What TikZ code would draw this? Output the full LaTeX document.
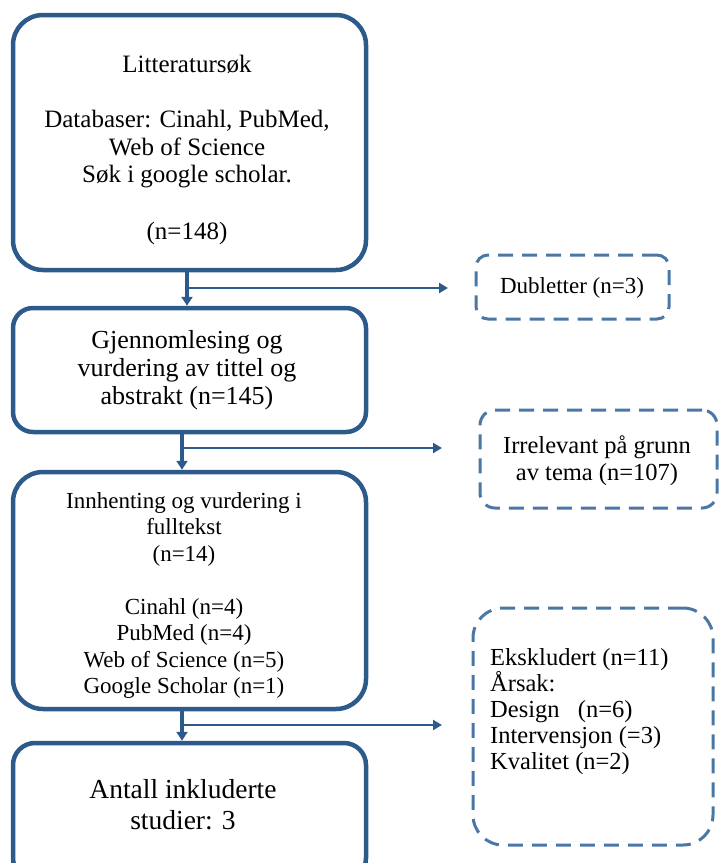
\documentclass[tikz,border=0pt]{standalone}
\usepackage{fontspec}
\setmainfont{Liberation Serif}
\usetikzlibrary{arrows.meta,calc}
\definecolor{boxblue}{HTML}{2C5A8A}
\definecolor{dashblue}{HTML}{4A77A4}
\tikzset{
  solidbox/.style={draw=boxblue, line width=4.5pt, rounded corners=#1, inner sep=0pt},
  solidbox/.default=30pt,
  dashbox/.style={draw=dashblue, line width=3pt, dash pattern=on 15pt off 9pt, rounded corners=#1, inner sep=0pt},
  dashbox/.default=14pt,
  txt/.style={inner sep=0pt, align=center},
  mainarrow/.style={draw=boxblue, line width=3.5pt, -{Triangle[length=9pt,width=11pt]}},
  sidearrow/.style={draw=boxblue, line width=2.8pt, -{Triangle[length=9pt,width=10pt]}},
}
\begin{document}
\begin{tikzpicture}[x=1pt,y=-1pt]
\useasboundingbox (0,0) rectangle (719,863);
% main boxes
\node[solidbox, minimum width=353pt, minimum height=255pt] (b1) at (189.5,142.5) {};
\node[solidbox=20pt, minimum width=353pt, minimum height=124pt] (b2) at (189.5,370) {};
\node[solidbox, minimum width=353pt, minimum height=237pt] (b3) at (189.5,590.5) {};
\node[solidbox=22pt, minimum width=353pt, minimum height=137pt] (b4) at (189.5,811.5) {};
% side boxes
\node[dashbox=12pt, minimum width=193pt, minimum height=64pt] (d1) at (572.5,287) {};
\node[dashbox=15pt, minimum width=237pt, minimum height=98pt] (d2) at (598.5,459) {};
\node[dashbox=30pt, minimum width=240pt, minimum height=237pt] (d3) at (593,726.5) {};
% texts
\node[txt, font=\fontsize{25}{27.5}\selectfont] (t1) at (187,150)
  {Litteratursøk\\[27.5pt]Databaser: Cinahl, PubMed,\\Web of Science\\Søk i google scholar.\\[29pt](n=148)};
\node[txt, font=\fontsize{26}{28}\selectfont] (t2) at (187,370)
  {Gjennomlesing og\\vurdering av tittel og\\abstrakt (n=145)};
\node[txt, font=\fontsize{23}{26.5}\selectfont] (t3) at (184,595.5)
  {Innhenting og vurdering i\\fulltekst\\(n=14)\\[26.5pt]Cinahl (n=4)\\PubMed (n=4)\\Web of Science (n=5)\\Google Scholar (n=1)};
\node[txt, font=\fontsize{27.5}{31}\selectfont] (t4) at (183,805)
  {Antall inkluderte\\studier: 3};
\node[txt, font=\fontsize{23}{27}\selectfont] (t5) at (572,288) {Dubletter (n=3)};
\node[txt, font=\fontsize{24.5}{27}\selectfont] (t6) at (597,461)
  {Irrelevant på grunn\\av tema (n=107)};
\node[txt, font=\fontsize{24.5}{25.8}\selectfont, align=left, anchor=west] (t7) at (490,711.5)
  {Ekskludert (n=11)\\Årsak:\\Design~~~(n=6)\\Intervensjon (=3)\\Kvalitet (n=2)};
% connector coordinates
\coordinate (v1) at (187,288);
\coordinate (v2) at (182,448);
\coordinate (v3) at (182,725);
\coordinate (e1) at (448,288);
\coordinate (e2) at (442,448);
\coordinate (e3) at (442,725);
% main arrows
\draw[mainarrow] (b1.south -| v1) -- (b2.north -| v1);
\draw[mainarrow] (b2.south -| v2) -- (b3.north -| v2);
\draw[mainarrow] (b3.south -| v3) -- (b4.north -| v3);
% side arrows
\draw[sidearrow] (v1) -- (e1);
\draw[sidearrow] (v2) -- (e2);
\draw[sidearrow] (v3) -- (e3);
\end{tikzpicture}
\end{document}
